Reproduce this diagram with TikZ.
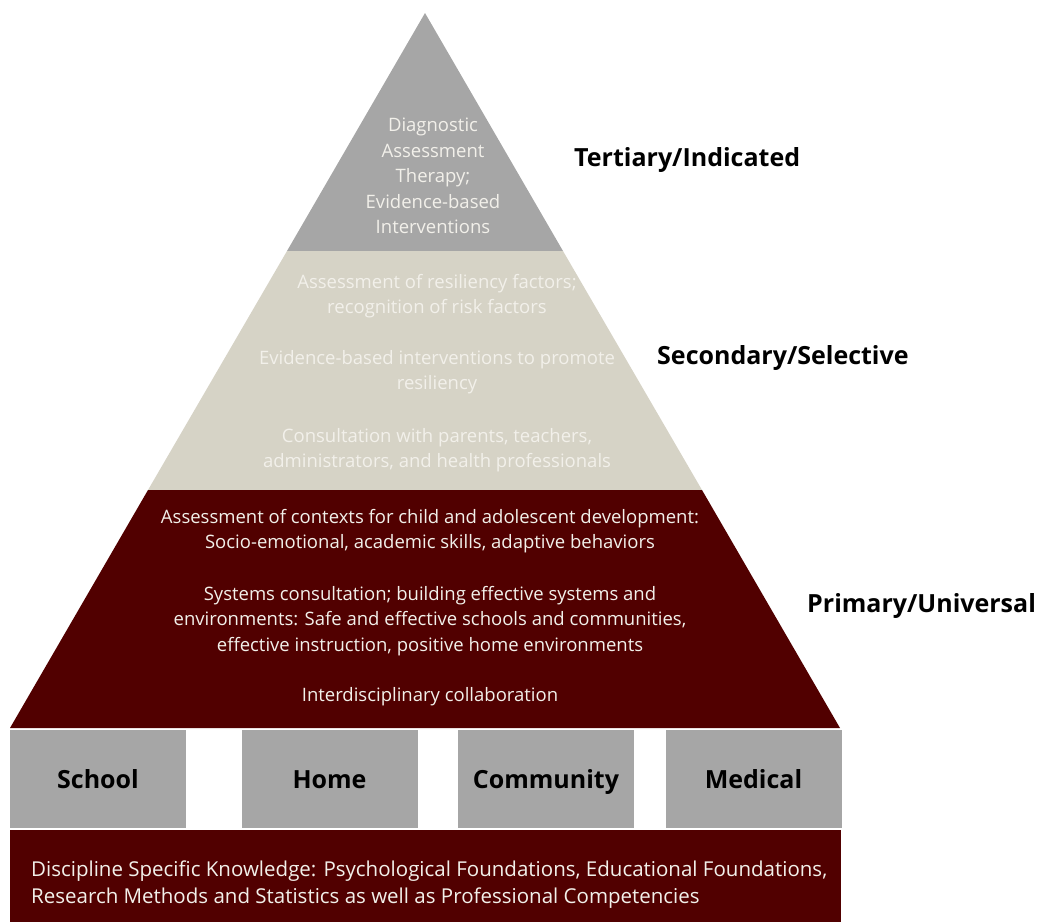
\documentclass[tikz,border=0pt]{standalone}
\usepackage{fontspec}
\setmainfont{Open Sans}
\usepackage{tikz}

\definecolor{tiergray}{HTML}{A6A6A6}
\definecolor{tiertan}{HTML}{D6D3C6}
\definecolor{tierred}{HTML}{510000}
\definecolor{paletext}{HTML}{F2F0EA}

\tikzset{
	tiertext/.style={align=center, text=paletext, font=\fontsize{18.5}{25.5}\selectfont},
	basetext/.style={align=left, anchor=west, inner sep=0pt, text=paletext, font=\fontsize{20.5}{27}\selectfont},
	levelname/.style={anchor=west, inner sep=0pt, font=\fontsize{25}{30}\selectfont\bfseries},
	pillar/.style={fill=tiergray, inner sep=0pt, minimum width=176pt, minimum height=98pt, font=\fontsize{25}{30}\selectfont\bfseries},
	pillarname/.style={inner sep=0pt, font=\fontsize{25}{30}\selectfont\bfseries}
}

\begin{document}
\begin{tikzpicture}[x=1pt,y=-1pt]
	\useasboundingbox (0,0) rectangle (1041,922);
	% tiers of the pyramid
	\fill[tiergray] (425,13) -- (563,251) -- (287,251) -- cycle;
	\fill[tiertan] (287,251) -- (563,251) -- (702,490) -- (148,490) -- cycle;
	\fill[tierred] (148,490) -- (702,490) -- (840,728) -- (10,728) -- cycle;
	% texts inside the tiers
	\node[tiertext] (tert) at (433,176) {Diagnostic\\Assessment\\Therapy;\\Evidence-based\\Interventions};
	\node[tiertext] (secA) at (437,296) {Assessment of resiliency factors;\\recognition of risk factors};
	\node[tiertext] (secB) at (437,372) {Evidence-based interventions to promote\\resiliency};
	\node[tiertext] (secC) at (437,450) {Consultation with parents, teachers,\\administrators, and health professionals};
	\node[tiertext] (primA) at (430,531) {Assessment of contexts for child and adolescent development:\\Socio-emotional, academic skills, adaptive behaviors};
	\node[tiertext] (primB) at (430,621) {Systems consultation; building effective systems and\\environments: Safe and effective schools and communities,\\effective instruction, positive home environments};
	\node[tiertext] (primC) at (430,697) {Interdisciplinary collaboration};
	% level names
	\node[levelname] (tertiary) at (574,160) {Tertiary/Indicated};
	\node[levelname] (secondary) at (657,358) {Secondary/Selective};
	\node[levelname] (primary) at (807,606) {Primary/Universal};
	% pillars
	\node[pillar] (school) at (98,779) {};
	\node[pillar] (home) at (329.5,779) {};
	\node[pillar] (community) at (546,779) {};
	\node[pillar] (medical) at (753.5,779) {};
	\node[pillarname, anchor=base] at ([yshift=-9pt]school.center) {School};
	\node[pillarname, anchor=base] at ([yshift=-9pt]home.center) {Home};
	\node[pillarname, anchor=base] at ([yshift=-9pt]community.center) {Community};
	\node[pillarname, anchor=base] at ([yshift=-9pt]medical.center) {Medical};
	% base
	\fill[tierred] (10,830) rectangle (841,922);
	\node[basetext] (base) at (31,885) {Discipline Specific Knowledge: Psychological Foundations, Educational Foundations,\\Research Methods and Statistics as well as Professional Competencies};
\end{tikzpicture}
\end{document}
